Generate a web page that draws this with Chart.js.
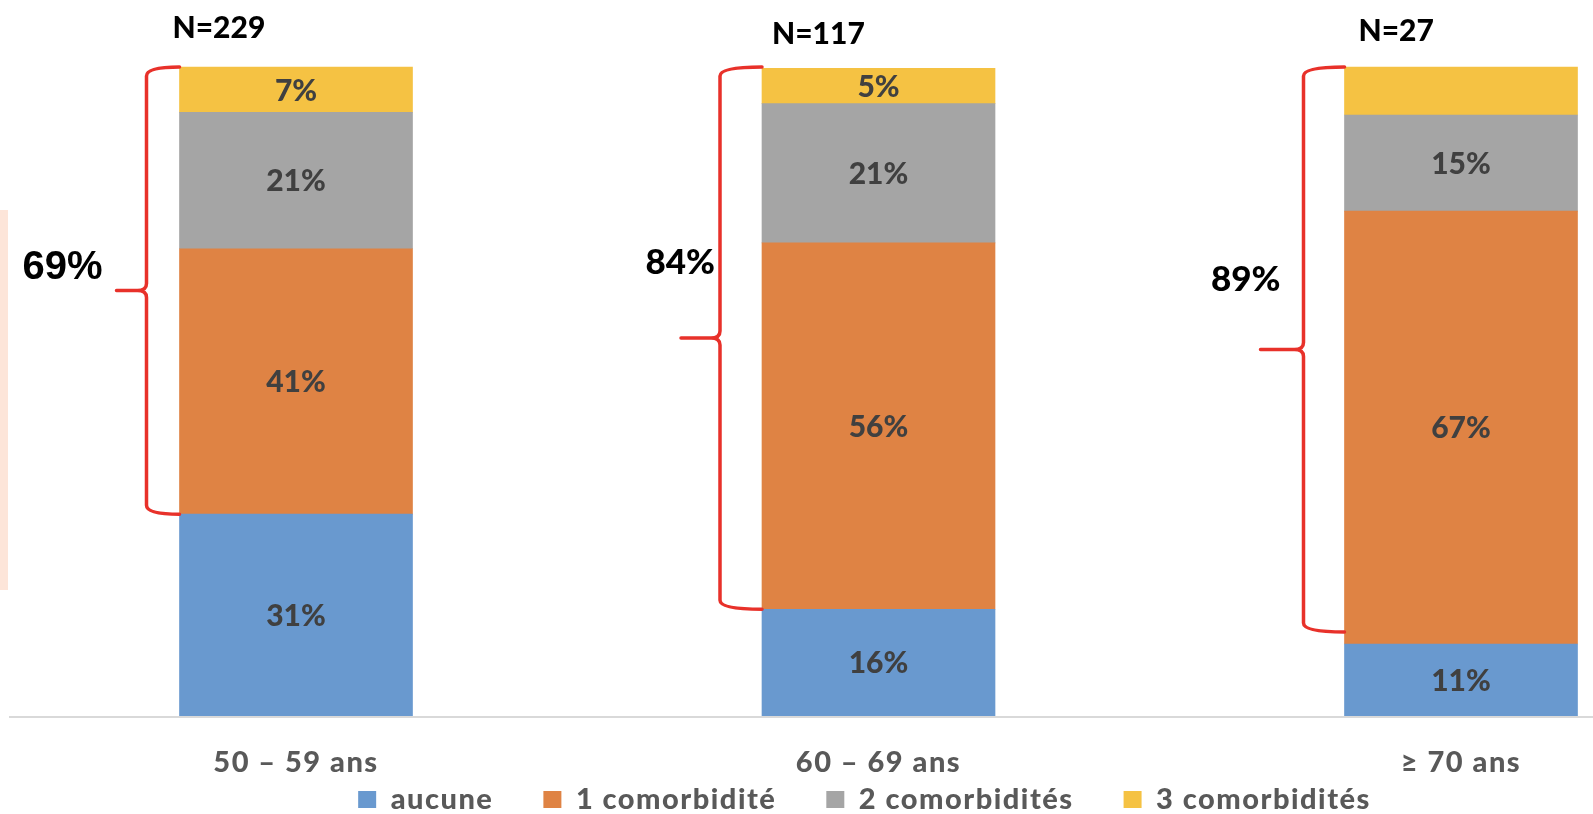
<!DOCTYPE html>
<html lang="fr">
<head>
<meta charset="utf-8">
<title>Comorbidités par tranche d'âge</title>
<script src="https://cdn.jsdelivr.net/npm/chart.js@4.4.1/dist/chart.umd.min.js"></script>
<style>
  html, body { margin: 0; padding: 0; background: #fff; }
  #wrap { width: 1593px; height: 814px; }
</style>
</head>
<body>
<div id="wrap"><canvas id="chart" width="1593" height="814"></canvas></div>
<script>
// values (% of each age group)
const ageGroups   = ['50 – 59 ans', '60 – 69 ans', '≥ 70 ans'];
const nTotals     = [229, 117, 27];
const seriesNames = ['aucune', '1 comorbidité', '2 comorbidités', '3 comorbidités'];
const aucune      = [31.1, 16.45, 11.1];
const comorb1     = [40.9, 56.45, 66.7];
const comorb2     = [21.0, 21.45, 14.8];
const comorb3     = [7.0, 5.45, 7.4];
// the yellow part of the last bar has no label in the original
const hiddenLabels = [{ series: 3, group: 2 }];

// look of the red braces and the texts around them
const braceStyle = [
  { gap: 33, tip: 30, inset: 0,  font: 'bold 40px "Liberation Sans", Arial, sans-serif', textGap: 44, dy: -26 },
  { gap: 42, tip: 39, inset: 0,  font: '900 35px Lato, sans-serif', textGap: 5, dy: -77 },
  { gap: 41, tip: 43, inset: 12, font: '900 35px Lato, sans-serif', textGap: 23, dy: -71 },
];
const nLabelStyle = [{ dx: -7, y: 27 }, { dx: 10, y: 33 }, { dx: 14, y: 30 }];

function drawBrace(ctx, xv, yTop, yBot, xBar, tip) {
  const yMid = (yTop + yBot) / 2;
  ctx.beginPath();
  ctx.moveTo(xBar, yTop);
  ctx.quadraticCurveTo(xv, yTop, xv, yTop + 9);
  ctx.lineTo(xv, yMid - 7);
  ctx.quadraticCurveTo(xv, yMid, xv - 9, yMid);
  ctx.lineTo(xv - tip, yMid);
  ctx.moveTo(xv - 9, yMid);
  ctx.quadraticCurveTo(xv, yMid, xv, yMid + 7);
  ctx.lineTo(xv, yBot - 9);
  ctx.quadraticCurveTo(xv, yBot, xBar, yBot);
  ctx.stroke();
  return yMid;
}

const decorPlugin = {
  id: 'decor',
  beforeLayout(chart) { chart.ctx.letterSpacing = '1.5px'; },
  afterLayout(chart) {
    chart.ctx.letterSpacing = '0px';
    // legend sits closer under the axis labels than chart.js would put it
    const lg = chart.legend;
    const dy = chart.chartArea.bottom + 19 - lg.top;
    lg.top += dy; lg.bottom += dy;
    lg.left -= 14; lg.right -= 14;
  },
  beforeDraw(chart) {
    const ctx = chart.ctx;
    ctx.save();
    ctx.fillStyle = '#fde5d9';
    ctx.fillRect(0, 210, 8, 380);
    ctx.restore();
    ctx.letterSpacing = '1.5px';   // legend + category labels are spaced out
  },
  afterDatasetsDraw(chart) {
    const ctx = chart.ctx;
    const y = chart.scales.y;
    ctx.save();
    ctx.letterSpacing = '0px';

    // axis line
    const y0 = y.getPixelForValue(0);
    ctx.strokeStyle = '#d9d9d9';
    ctx.lineWidth = 2;
    ctx.beginPath();
    ctx.moveTo(9, y0 + 1);
    ctx.lineTo(chart.width, y0 + 1);
    ctx.stroke();

    // percentages inside the segments
    ctx.font = '900 30px Lato, sans-serif';
    ctx.fillStyle = '#404040';
    ctx.textAlign = 'center';
    ctx.textBaseline = 'alphabetic';
    chart.data.datasets.forEach((ds, si) => {
      chart.getDatasetMeta(si).data.forEach((bar, gi) => {
        if (hiddenLabels.some(h => h.series === si && h.group === gi)) return;
        const cy = (bar.y + bar.base) / 2;
        ctx.fillText(Math.round(ds.data[gi]) + '%', bar.x, cy + 0.36 * 30);
      });
    });

    // red braces over everything above "aucune", with the total and N
    const meta0 = chart.getDatasetMeta(0);
    ageGroups.forEach((g, gi) => {
      const bar = meta0.data[gi];
      const xBar = bar.x - bar.width / 2;
      const st = braceStyle[gi];
      const xv = xBar - st.gap;
      ctx.strokeStyle = '#e8312a';
      ctx.lineWidth = 3.5;
      ctx.lineJoin = 'round';
      ctx.lineCap = 'round';
      const yMid = drawBrace(ctx, xv, y.getPixelForValue(100), y.getPixelForValue(aucune[gi]) - st.inset, xBar, st.tip);

      ctx.fillStyle = '#000';
      ctx.font = st.font;
      ctx.textAlign = 'right';
      const size = parseInt(st.font.match(/(\d+)px/)[1], 10);
      ctx.fillText(Math.round(100 - aucune[gi]) + '%', xv - st.textGap, yMid + st.dy + 0.36 * size);

      ctx.font = '900 30px Lato, sans-serif';
      ctx.textAlign = 'left';
      const nl = nLabelStyle[gi];
      ctx.fillText('N=' + nTotals[gi], xBar + nl.dx, nl.y + 0.36 * 30);
    });
    ctx.restore();
  }
};

const barBase = { barThickness: 233, borderWidth: 0, clip: false };

new Chart(document.getElementById('chart'), {
  type: 'bar',
  data: {
    labels: ageGroups,
    datasets: [
      { ...barBase, label: seriesNames[0], data: aucune,  backgroundColor: '#6999cf' },
      { ...barBase, label: seriesNames[1], data: comorb1, backgroundColor: '#df8344' },
      { ...barBase, label: seriesNames[2], data: comorb2, backgroundColor: '#a5a5a5' },
      { ...barBase, label: seriesNames[3], data: comorb3, backgroundColor: '#f5c243' },
    ],
  },
  options: {
    responsive: false,
    animation: false,
    devicePixelRatio: 1,
    layout: { padding: { left: 296, right: 132, top: 67, bottom: -56 } },
    plugins: {
      tooltip: { enabled: false },
      legend: {
        position: 'bottom',
        fullSize: false,
        labels: {
          boxWidth: 18,
          boxHeight: 17,
          padding: 50,
          color: '#595959',
          font: { family: 'Lato', weight: '900', size: 29 },
        },
      },
    },
    scales: {
      x: {
        stacked: true,
        offset: false,
        grid: { display: false, drawTicks: false },
        border: { display: false },
        ticks: {
          padding: 29,
          color: '#595959',
          maxRotation: 0,
          autoSkip: false,
          font: { family: 'Lato', weight: '900', size: 29 },
        },
        afterFit(scale) { scale.height = 65; },
      },
      y: { stacked: true, display: false, min: 0, max: 100 },
    },
  },
  plugins: [decorPlugin],
});
</script>
</body>
</html>
